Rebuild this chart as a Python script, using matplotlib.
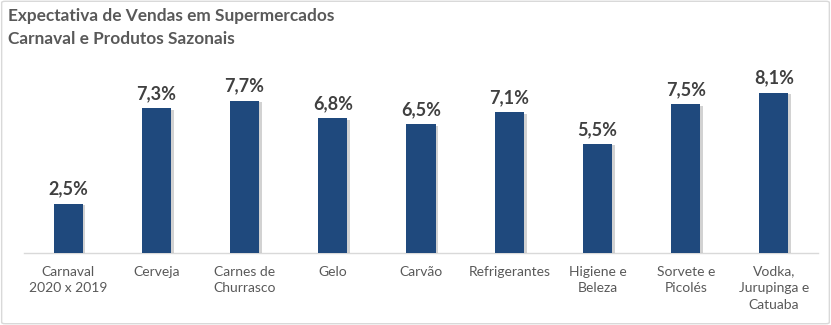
import matplotlib.pyplot as plt
import matplotlib.patheffects as pe
from matplotlib.patches import FancyBboxPatch

plt.rcParams['font.family'] = ['Lato', 'DejaVu Sans']

# dados
categorias = ['Carnaval\n2020 x 2019', 'Cerveja', 'Carnes de\nChurrasco', 'Gelo', 'Carvão',
              'Refrigerantes', 'Higiene e\nBeleza', 'Sorvete e\nPicolés', 'Vodka,\nJurupinga e\nCatuaba']
valores = [2.5, 7.3, 7.7, 6.8, 6.5, 7.1, 5.5, 7.5, 8.1]
rotulos = ['2,5%', '7,3%', '7,7%', '6,8%', '6,5%', '7,1%', '5,5%', '7,5%', '8,1%']

cor_barra = '#1F497D'

fig = plt.figure(figsize=(8.31, 3.25), dpi=100)
ax = fig.add_axes([0.0289, 0.2215, 0.9555, 0.585])

x = range(len(categorias))
barras = ax.bar(x, valores, width=0.33, color=cor_barra, zorder=3)
for b in barras:
    b.set_path_effects([pe.SimplePatchShadow(offset=(2, -1), shadow_rgbFace='#7f7f7f', alpha=0.35),
                        pe.Normal()])

for xi, v, r in zip(x, valores, rotulos):
    ax.text(xi, v + 0.3, r, ha='center', va='bottom', fontsize=13, fontweight='bold', color='#404040')

ax.set_xlim(-0.5, len(categorias) - 0.5)
ax.set_ylim(0, 9.6)
ax.set_yticks([])
ax.set_xticks(list(x))
ax.set_xticklabels(categorias, fontsize=10, color='#595959', linespacing=1.45, va='top')
ax.tick_params(axis='x', length=0, pad=9)
for s in ['top', 'right', 'left']:
    ax.spines[s].set_visible(False)
ax.spines['bottom'].set_color('#d9d9d9')
ax.spines['bottom'].set_linewidth(1)

# título
fig.text(8 / 831, 1 - 16 / 325, 'Expectativa de Vendas em Supermercados', fontsize=12.4, fontweight='bold',
         color='#595959', ha='left', va='center')
fig.text(8 / 831, 1 - 39 / 325, 'Carnaval e Produtos Sazonais', fontsize=12.4, fontweight='bold',
         color='#595959', ha='left', va='center')

# borda
borda = FancyBboxPatch((0.002, 0.004), 0.996, 0.992, boxstyle='round,pad=0,rounding_size=0.004',
                       transform=fig.transFigure, facecolor='none', edgecolor='#d9d9d9', linewidth=1)
fig.patches.append(borda)

fig.savefig('out.png', dpi=100, facecolor='white')
